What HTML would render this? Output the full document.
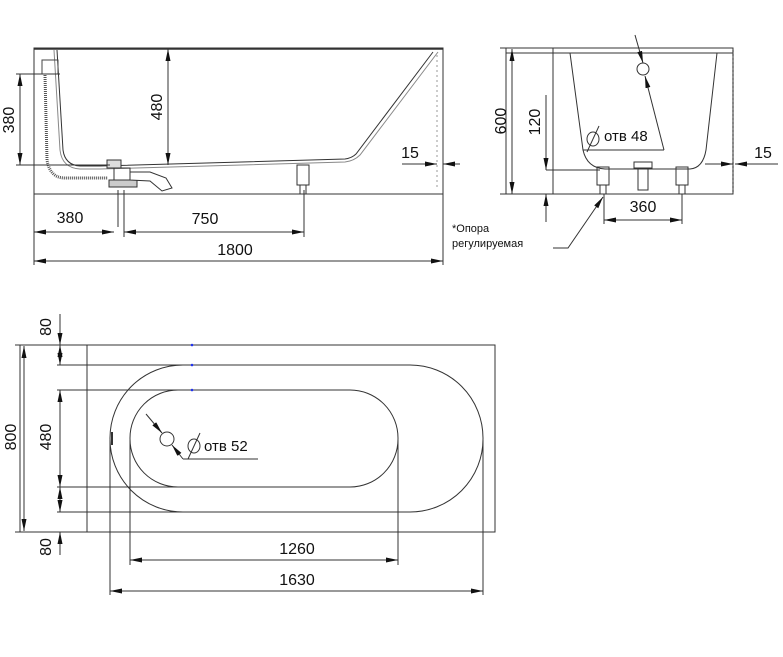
<!DOCTYPE html>
<html><head><meta charset="utf-8"><style>
html,body{margin:0;padding:0;background:#fff;width:783px;height:657px;overflow:hidden}
text{font-family:"Liberation Sans",sans-serif;fill:#111}
</style></head><body>
<svg width="783" height="657" viewBox="0 0 783 657" xmlns="http://www.w3.org/2000/svg">
<defs>
<marker id="a" viewBox="0 0 12 5" refX="12" refY="2.5" markerWidth="12" markerHeight="5" orient="auto-start-reverse" markerUnits="userSpaceOnUse"><path d="M0,0L12,2.5L0,5z" fill="#111"/></marker>
</defs>
<g stroke="#333" fill="none" stroke-width="1">
<!-- Side view -->
<rect x="34" y="48" width="409" height="146"/>
<line x1="34" y1="49" x2="443" y2="49" stroke-width="1.5"/>
<path d="M57,50 L63,150 Q65,165 80,166 L100,166 L345,159 Q352,158 356,154 L433,52"/>
<path d="M54,50 L60,150 Q62,168 80,169 L100,169 L345,162 Q354,161 360,155 L438,52" stroke="#888"/>
<line x1="437" y1="55" x2="437" y2="190" stroke="#999" stroke-dasharray="2,3"/>
<path d="M45,75 L47,160 Q50,178 65,178 L108,178" stroke="#555" stroke-width="3" stroke-dasharray="1,1"/>
<rect x="42" y="60" width="16" height="14" stroke="#444"/>
<rect x="107" y="160" width="14" height="8" fill="#ddd"/>
<rect x="109" y="180" width="28" height="7" fill="#ccc"/>
<rect x="114" y="168" width="16" height="12"/>
<path d="M130,172 L150,172 L166,178 L172,188 L162,191 L150,181 L130,180z" fill="#fff"/>
<rect x="297" y="165" width="12" height="20"/>
<rect x="300" y="185" width="6" height="9"/>
<line x1="118" y1="190" x2="118" y2="227"/>
<line x1="124" y1="190" x2="124" y2="237"/>
<line x1="304" y1="190" x2="304" y2="237"/>
<line x1="34" y1="194" x2="34" y2="265"/>
<line x1="443" y1="194" x2="443" y2="265"/>
<line x1="16" y1="74" x2="60" y2="74"/>
<line x1="16" y1="165" x2="110" y2="165"/>
<line x1="20" y1="74" x2="20" y2="165" marker-start="url(#a)" marker-end="url(#a)"/>
<line x1="168" y1="49" x2="168" y2="165" marker-start="url(#a)" marker-end="url(#a)"/>
<line x1="34" y1="232" x2="114" y2="232" marker-start="url(#a)" marker-end="url(#a)"/>
<line x1="124" y1="232" x2="304" y2="232" marker-start="url(#a)" marker-end="url(#a)"/>
<line x1="34" y1="261" x2="443" y2="261" marker-start="url(#a)" marker-end="url(#a)"/>
<line x1="402" y1="164" x2="437" y2="164" marker-end="url(#a)"/>
<line x1="460" y1="164" x2="443" y2="164" marker-end="url(#a)"/>
<!-- End view -->
<rect x="506" y="48" width="227" height="146"/>
<line x1="506" y1="53" x2="733" y2="53"/>
<line x1="553" y1="48" x2="553" y2="194"/>
<line x1="733" y1="50" x2="733" y2="194" stroke="#888" stroke-width="2" stroke-dasharray="2,2"/>
<path d="M570,53 L583,150 Q587,168 605,169 L690,169 Q703,168 706,150 L717,53"/>
<line x1="546" y1="170" x2="600" y2="170"/>
<circle cx="643" cy="69" r="6"/>
<line x1="635" y1="35" x2="643" y2="63" marker-end="url(#a)"/>
<line x1="664" y1="150" x2="645" y2="76" marker-end="url(#a)"/>
<line x1="583" y1="150" x2="664" y2="150"/>
<rect x="597" y="167" width="12" height="18"/><rect x="600" y="185" width="6" height="9"/>
<rect x="676" y="167" width="12" height="18"/><rect x="679" y="185" width="6" height="9"/>
<rect x="634" y="162" width="18" height="6"/><rect x="638" y="168" width="10" height="22"/>
<line x1="500" y1="48" x2="520" y2="48"/>
<line x1="500" y1="194" x2="553" y2="194"/>
<line x1="512" y1="49" x2="512" y2="194" marker-start="url(#a)" marker-end="url(#a)"/>
<line x1="546" y1="95" x2="546" y2="170" marker-end="url(#a)"/>
<line x1="546" y1="222" x2="546" y2="194" marker-end="url(#a)"/>
<line x1="604" y1="194" x2="604" y2="224"/>
<line x1="682" y1="194" x2="682" y2="224"/>
<line x1="604" y1="220" x2="682" y2="220" marker-start="url(#a)" marker-end="url(#a)"/>
<line x1="705" y1="164" x2="733" y2="164" marker-end="url(#a)"/>
<line x1="778" y1="164" x2="735" y2="164" marker-end="url(#a)"/>
<path d="M553,248 L568,248 L603,197" marker-end="url(#a)"/>
<!-- Plan view -->
<rect x="20" y="345" width="475" height="187"/>
<line x1="87" y1="345" x2="87" y2="532"/>
<rect x="110" y="365" width="373" height="147" rx="73" ry="73"/>
<rect x="130" y="390" width="268" height="97" rx="48" ry="48"/>
<line x1="57" y1="365" x2="192" y2="365"/>
<line x1="57" y1="390" x2="192" y2="390"/>
<line x1="57" y1="487" x2="192" y2="487"/>
<line x1="57" y1="512" x2="192" y2="512"/>
<line x1="15" y1="345" x2="87" y2="345"/>
<line x1="15" y1="532" x2="87" y2="532"/>
<line x1="24" y1="346" x2="24" y2="531" marker-start="url(#a)" marker-end="url(#a)"/>
<line x1="60" y1="314" x2="60" y2="345" marker-end="url(#a)"/>
<line x1="60" y1="345" x2="60" y2="365" marker-start="url(#a)" marker-end="url(#a)"/>
<line x1="60" y1="390" x2="60" y2="487" marker-start="url(#a)" marker-end="url(#a)"/>
<line x1="60" y1="487" x2="60" y2="512" marker-start="url(#a)" marker-end="url(#a)"/>
<line x1="60" y1="555" x2="60" y2="532" marker-end="url(#a)"/>
<line x1="130" y1="440" x2="130" y2="565"/>
<line x1="398" y1="440" x2="398" y2="565"/>
<line x1="110" y1="440" x2="110" y2="595"/>
<line x1="483" y1="440" x2="483" y2="595"/>
<line x1="112" y1="432" x2="112" y2="445" stroke-width="2"/>
<line x1="130" y1="560" x2="398" y2="560" marker-start="url(#a)" marker-end="url(#a)"/>
<line x1="110" y1="591" x2="483" y2="591" marker-start="url(#a)" marker-end="url(#a)"/>
<circle cx="167" cy="439" r="7"/>
<line x1="146" y1="414" x2="162" y2="433" marker-end="url(#a)"/>
<line x1="183" y1="459" x2="172" y2="445" marker-end="url(#a)"/>
<line x1="183" y1="459" x2="258" y2="459"/>
<ellipse cx="194" cy="446" rx="6" ry="7"/><line x1="188" y1="459" x2="200" y2="433"/>
<ellipse cx="593" cy="139" rx="6" ry="7"/><line x1="587" y1="152" x2="599" y2="126"/>
</g>
<g fill="#2233ee"><circle cx="192" cy="345" r="1.3"/><circle cx="192" cy="365" r="1.3"/><circle cx="192" cy="390" r="1.3"/></g>
<g font-size="16">
<text x="14" y="120" transform="rotate(-90 14 120)" text-anchor="middle">380</text>
<text x="162" y="107" transform="rotate(-90 162 107)" text-anchor="middle">480</text>
<text x="70" y="223" text-anchor="middle">380</text>
<text x="205" y="224" text-anchor="middle">750</text>
<text x="235" y="255" text-anchor="middle">1800</text>
<text x="410" y="158" text-anchor="middle">15</text>
<text x="506" y="121" transform="rotate(-90 506 121)" text-anchor="middle">600</text>
<text x="540" y="122" transform="rotate(-90 540 122)" text-anchor="middle">120</text>
<text x="643" y="212" text-anchor="middle">360</text>
<text x="763" y="158" text-anchor="middle">15</text>
<text x="51" y="327" transform="rotate(-90 51 327)" text-anchor="middle">80</text>
<text x="51" y="437" transform="rotate(-90 51 437)" text-anchor="middle">480</text>
<text x="51" y="547" transform="rotate(-90 51 547)" text-anchor="middle">80</text>
<text x="16" y="437" transform="rotate(-90 16 437)" text-anchor="middle">800</text>
<text x="297" y="554" text-anchor="middle">1260</text>
<text x="297" y="585" text-anchor="middle">1630</text>
</g>
<g font-size="15">
<text x="604" y="141">отв 48</text>
<text x="204" y="451">отв 52</text>
</g>
<g font-size="11">
<text x="452" y="232">*Опора</text>
<text x="452" y="247">регулируемая</text>
</g>
</svg>
</body></html>
